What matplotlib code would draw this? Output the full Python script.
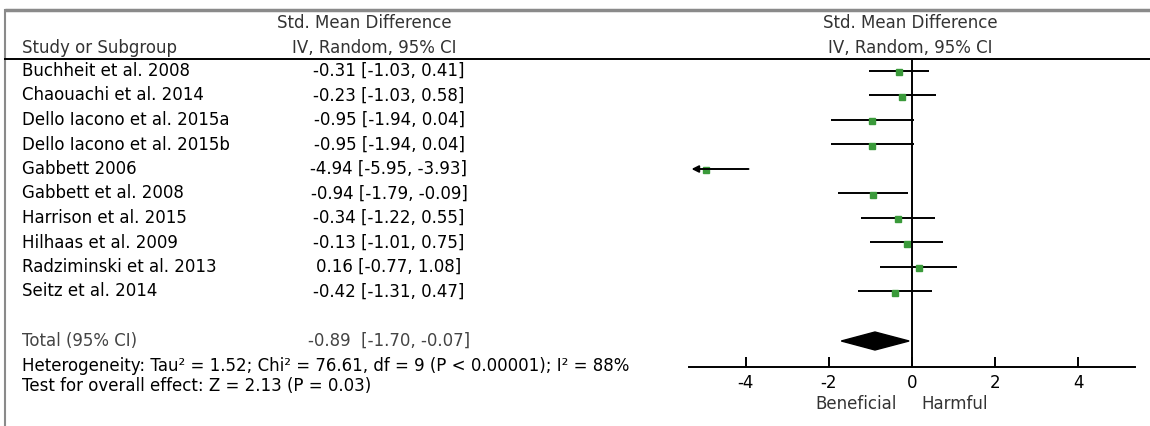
"""
Forest plot: Std. Mean Difference, IV, Random, 95% CI.
"""
import matplotlib
matplotlib.use('Agg')
import matplotlib.pyplot as plt
from matplotlib.patches import Polygon

studies = [
    "Buchheit et al. 2008",
    "Chaouachi et al. 2014",
    "Dello Iacono et al. 2015a",
    "Dello Iacono et al. 2015b",
    "Gabbett 2006",
    "Gabbett et al. 2008",
    "Harrison et al. 2015",
    "Hilhaas et al. 2009",
    "Radziminski et al. 2013",
    "Seitz et al. 2014",
]
smd = [-0.31, -0.23, -0.95, -0.95, -4.94, -0.94, -0.34, -0.13, 0.16, -0.42]
ci_low = [-1.03, -1.03, -1.94, -1.94, -5.95, -1.79, -1.22, -1.01, -0.77, -1.31]
ci_high = [0.41, 0.58, 0.04, 0.04, -3.93, -0.09, 0.55, 0.75, 1.08, 0.47]

total_smd, total_low, total_high = -0.89, -1.70, -0.07
heterogeneity = "Heterogeneity: Tau\u00b2 = 1.52; Chi\u00b2 = 76.61, df = 9 (P < 0.00001); I\u00b2 = 88%"
overall = "Test for overall effect: Z = 2.13 (P = 0.03)"
x_ticks = [-4, -2, 0, 2, 4]

W, H = 1150, 426
plt.rcParams['font.family'] = ['DejaVu Sans']
FS = 12

fig = plt.figure(figsize=(W / 100, H / 100), dpi=100)

# full-figure overlay in pixel coordinates for the table part
ov = fig.add_axes([0, 0, 1, 1])
ov.set_xlim(0, W)
ov.set_ylim(H, 0)
ov.axis('off')

# frame lines
ov.plot([5, W], [10, 10], color='#8a8a8a', lw=2.5, solid_capstyle='butt')
ov.plot([5, 5], [10, H], color='#8a8a8a', lw=1.5)
ov.plot([5, W], [59, 59], color='black', lw=1.4)

hdr = '#333333'
ov.text(364, 23, "Std. Mean Difference", fontsize=FS, ha='center', va='center', color=hdr)
ov.text(22, 48, "Study or Subgroup", fontsize=FS, ha='left', va='center', color=hdr)
ov.text(374, 48, "IV, Random, 95% CI", fontsize=FS, ha='center', va='center', color=hdr)
ov.text(910, 23, "Std. Mean Difference", fontsize=FS, ha='center', va='center', color=hdr)
ov.text(910, 48, "IV, Random, 95% CI", fontsize=FS, ha='center', va='center', color=hdr)

row_y = [71 + 24.5 * i for i in range(len(studies))]
total_y = 341

for name, m, lo, hi, y in zip(studies, smd, ci_low, ci_high, row_y):
    ov.text(22, y, name, fontsize=FS, ha='left', va='center', color='black')
    ov.text(389, y, f"{m:.2f} [{lo:.2f}, {hi:.2f}]", fontsize=FS,
            ha='center', va='center', color='black')

ov.text(22, total_y, "Total (95% CI)", fontsize=FS, ha='left', va='center', color='#444444')
ov.text(389, total_y, f"{total_smd:.2f}  [{total_low:.2f}, {total_high:.2f}]",
        fontsize=FS, ha='center', va='center', color='#444444')
ov.text(22, 366, heterogeneity, fontsize=FS, ha='left', va='center', color='black')
ov.text(22, 386, overall, fontsize=FS, ha='left', va='center', color='black')

# forest panel: x maps to data, y shares the pixel rows
x_lim = (-5.35, 5.35)
px_per_unit = 41.6
left_px = 912 + x_lim[0] * px_per_unit
right_px = 912 + x_lim[1] * px_per_unit
top_px, axis_px = 59, 367
ax = fig.add_axes([left_px / W, 1 - axis_px / H, (right_px - left_px) / W, (axis_px - top_px) / H])
ax.patch.set_alpha(0)
ax.set_xlim(*x_lim)
ax.set_ylim(axis_px, top_px)

green = '#3a9a3a'
for m, lo, hi, y in zip(smd, ci_low, ci_high, row_y):
    if lo < x_lim[0]:
        ax.annotate("", xy=(x_lim[0] + 0.05, y), xytext=(hi, y),
                    arrowprops=dict(arrowstyle='-|>', color='black', lw=1.4,
                                    mutation_scale=10, shrinkA=0, shrinkB=0))
    else:
        ax.plot([lo, hi], [y, y], color='black', lw=1.4, solid_capstyle='butt')
    ax.plot([m], [y + 1.5], marker='s', color=green, markersize=4.5, mec=green)

diamond = Polygon([(total_low, total_y), (total_smd, total_y - 9),
                   (total_high, total_y), (total_smd, total_y + 9)],
                  closed=True, facecolor='black', edgecolor='black')
ax.add_patch(diamond)

ax.axvline(0, color='black', lw=1.4)

for s in ['top', 'left', 'right']:
    ax.spines[s].set_visible(False)
ax.spines['bottom'].set_linewidth(1.4)
ax.set_yticks([])
ax.set_xticks(x_ticks)
ax.set_xticklabels([str(t) for t in x_ticks])
ax.tick_params(axis='x', direction='in', length=7, width=1.4, pad=5, labelsize=FS)

ov.text(856, 404, "Beneficial", fontsize=FS, ha='center', va='center', color=hdr)
ov.text(955, 404, "Harmful", fontsize=FS, ha='center', va='center', color=hdr)

fig.savefig("out.png", dpi=100)
plt.close(fig)
